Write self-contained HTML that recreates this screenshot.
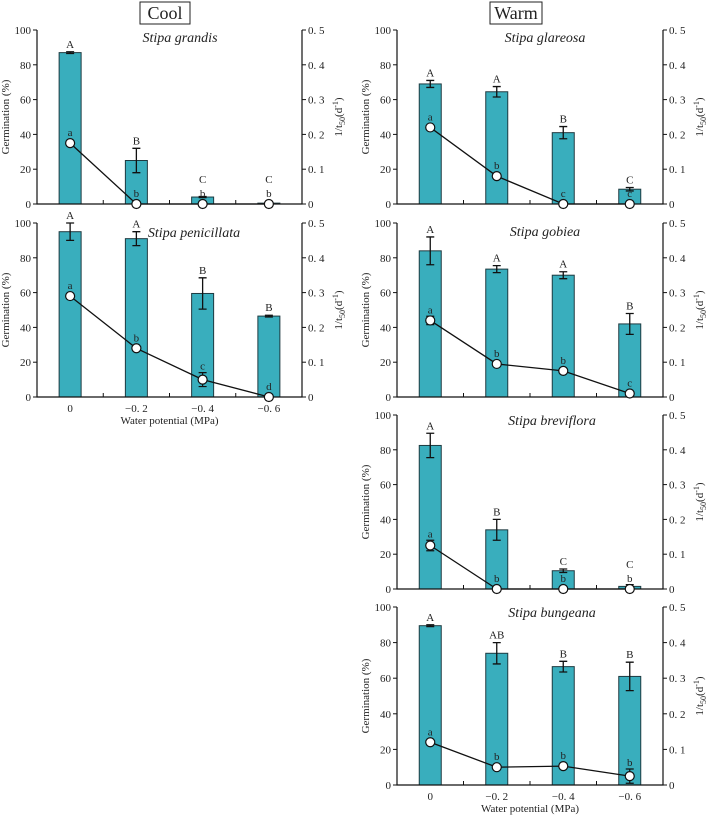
<!DOCTYPE html>
<html><head><meta charset="utf-8"><style>
body{margin:0;background:#fff}
svg text{font-family:"Liberation Serif",serif;fill:#222}
</style></head><body>
<svg id="c" width="708" height="815" xmlns="http://www.w3.org/2000/svg">
<rect x="140" y="2" width="50" height="22" fill="none" stroke="#222"/>
<text x="165" y="19" font-size="18" text-anchor="middle">Cool</text>
<rect x="490" y="2" width="52" height="22" fill="none" stroke="#222"/>
<text x="516" y="19" font-size="18" text-anchor="middle">Warm</text>
</svg>
<script>
const categories=["0","-0. 2","-0. 4","-0. 6"];
const grandisBars=[87,25,4,0.5];
const grandisBarErr=[0.5,7,0.3,0.3];
const grandisLine=[0.175,0,0,0];
const grandisLineErr=[0,0,0,0];
const grandisUpper=["A","B","C","C"];
const grandisLower=["a","b","b","b"];
const penicillataBars=[95,91,59.5,46.5];
const penicillataBarErr=[5,4,9,0.5];
const penicillataLine=[0.29,0.14,0.05,0];
const penicillataLineErr=[0.005,0.005,0.02,0];
const penicillataUpper=["A","A","B","B"];
const penicillataLower=["a","b","c","d"];
const glareosaBars=[69,64.5,41,8.5];
const glareosaBarErr=[2,3,3.5,1];
const glareosaLine=[0.22,0.08,0,0];
const glareosaLineErr=[0,0,0,0];
const glareosaUpper=["A","A","B","C"];
const glareosaLower=["a","b","c","c"];
const gobieaBars=[84,73.5,70,42];
const gobieaBarErr=[8,2,2,6];
const gobieaLine=[0.22,0.095,0.075,0.01];
const gobieaLineErr=[0.012,0,0,0];
const gobieaUpper=["A","A","A","B"];
const gobieaLower=["a","b","b","c"];
const brevifloraBars=[82.5,34,10.5,1.5];
const brevifloraBarErr=[7,6,1,1];
const brevifloraLine=[0.125,0,0,0];
const brevifloraLineErr=[0.015,0,0,0];
const brevifloraUpper=["A","B","C","C"];
const brevifloraLower=["a","b","b","b"];
const bungeanaBars=[89.5,74,66.5,61];
const bungeanaBarErr=[0.5,6,3,8];
const bungeanaLine=[0.12,0.05,0.053,0.025];
const bungeanaLineErr=[0,0.005,0,0.02];
const bungeanaUpper=["A","AB","B","B"];
const bungeanaLower=["a","b","b","b"];
const leftTicks=["0","20","40","60","80","100"];
const rightTicks=["0","0. 1","0. 2","0. 3","0. 4","0. 5"];

const svg=document.getElementById('c');
const NS="http://www.w3.org/2000/svg";
function mk(tag,attrs,parent){const e=document.createElementNS(NS,tag);for(const k in attrs)e.setAttribute(k,attrs[k]);(parent||svg).appendChild(e);return e;}

function panel(id,title,x0,x1,yTop,yBot,bars,barErr,line,lineErr,upper,lower,xlabels,titleX,titleY){
  const g=mk('g',{});
  
  
  const xs=i=>x0+(x1-x0)*(i+0.5)/categories.length;
  const yL=v=>yBot-(yBot-yTop)*v/100;
  const yR=v=>yBot-(yBot-yTop)*v/0.5;
  const bw=22;
  bars.forEach((v,i)=>{
    const r=mk('rect',{x:xs(i)-bw/2,y:yL(v),width:bw,height:yBot-yL(v),fill:'#39aebd',stroke:'#1e3a40','stroke-width':1},g);
    
    
    const e=barErr[i];
    if(e>0){mk('path',{d:`M${xs(i)},${yL(v+e)}V${yL(v-e)}M${xs(i)-4},${yL(v+e)}h8M${xs(i)-4},${yL(v-e)}h8`,stroke:'#111','stroke-width':1.3,fill:'none'},g);}
  });
  mk('path',{d:`M${x0},${yTop}V${yBot}H${x1}V${yTop}`,stroke:'#111','stroke-width':1.2,fill:'none'},g);
  for(let k=1;k<categories.length;k++){const xt=x0+(x1-x0)*k/categories.length;mk('line',{x1:xt,x2:xt,y1:yBot,y2:yBot-4,stroke:'#111'},g);}
  leftTicks.forEach((t,k)=>{const y=yL(k*20);mk('line',{x1:x0-4,x2:x0,y1:y,y2:y,stroke:'#111'},g);
    const tx=mk('text',{x:x0-6,y:y+4,'font-size':11,'text-anchor':'end'},g);tx.textContent=t;
    });
  rightTicks.forEach((t,k)=>{const y=yR(k*0.1);mk('line',{x1:x1,x2:x1+4,y1:y,y2:y,stroke:'#111'},g);
    const tx=mk('text',{x:x1+6,y:y+4,'font-size':11},g);tx.textContent=t;
    });
  const pts=line.map((v,i)=>xs(i)+','+yR(v)).join(' ');
  const pl=mk('polyline',{points:pts,fill:'none',stroke:'#111','stroke-width':1.3},g);
  
  
  line.forEach((v,i)=>{
    const e=lineErr[i];
    if(e>0){mk('path',{d:`M${xs(i)},${yR(v+e)}V${yR(v-e)}M${xs(i)-4},${yR(v+e)}h8M${xs(i)-4},${yR(v-e)}h8`,stroke:'#111','stroke-width':1.2,fill:'none'},g);}
    const c=mk('circle',{cx:xs(i),cy:yR(v),r:4.5,fill:'#fff',stroke:'#111','stroke-width':1.2},g);
    
    
    const ly=Math.min(yR(v)-7,yR(v+e)-3);
    const t=mk('text',{x:xs(i),y:ly,'font-size':11,'text-anchor':'middle',fill:'#1a4a50'},g);
    t.textContent=lower[i];
    
    
    let uy=yL(bars[i]+barErr[i])-4;
    if(uy>ly-13 && uy<ly+14) uy=ly-14;
    const u=mk('text',{x:xs(i),y:uy,'font-size':11,'text-anchor':'middle'},g);
    u.textContent=upper[i];
    
    
  });
  const tt=mk('text',{x:titleX,y:titleY,'font-size':14,'font-style':'italic','text-anchor':'middle'},g);
  tt.textContent=title;
  
  const ym=(yTop+yBot)/2;
  const yl=mk('text',{x:0,y:0,'font-size':11,'text-anchor':'middle',transform:`translate(${x0-28},${ym}) rotate(-90)`},g);
  yl.textContent='Germination (%)';
  
  const yr=mk('text',{x:0,y:0,'font-size':11,'text-anchor':'middle',transform:`translate(${x1+40},${ym}) rotate(-90)`},g);
  yr.innerHTML='1/t<tspan font-size="8" dy="3">50</tspan><tspan dy="-3">(d</tspan><tspan font-size="8" dy="-4">-1</tspan><tspan dy="4">)</tspan>';
  
  if(xlabels){
    categories.forEach((c,i)=>{const t=mk('text',{x:xs(i),y:yBot+15,'font-size':11,'text-anchor':'middle'},g);t.textContent=c.replace('-','\u2212');
      });
    const xt=mk('text',{x:(x0+x1)/2,y:yBot+27,'font-size':11,'text-anchor':'middle'},g);
    xt.textContent='Water potential (MPa)';
    
  }
}
panel('grandis','Stipa grandis',37,302,30,204,grandisBars,grandisBarErr,grandisLine,grandisLineErr,grandisUpper,grandisLower,false,180,42);
panel('penicillata','Stipa penicillata',37,302,223,397,penicillataBars,penicillataBarErr,penicillataLine,penicillataLineErr,penicillataUpper,penicillataLower,true,194,237);
panel('glareosa','Stipa glareosa',397,663,30,204,glareosaBars,glareosaBarErr,glareosaLine,glareosaLineErr,glareosaUpper,glareosaLower,false,545,42);
panel('gobiea','Stipa gobiea',397,663,223,397,gobieaBars,gobieaBarErr,gobieaLine,gobieaLineErr,gobieaUpper,gobieaLower,false,545,236);
panel('breviflora','Stipa breviflora',397,663,415,589,brevifloraBars,brevifloraBarErr,brevifloraLine,brevifloraLineErr,brevifloraUpper,brevifloraLower,false,552,425);
panel('bungeana','Stipa bungeana',397,663,607,785,bungeanaBars,bungeanaBarErr,bungeanaLine,bungeanaLineErr,bungeanaUpper,bungeanaLower,true,552,617);
</script>
</body></html>
